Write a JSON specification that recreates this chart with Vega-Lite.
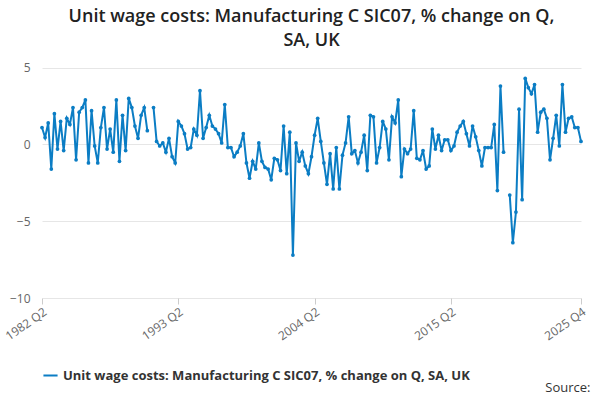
{
  "$schema": "https://vega.github.io/schema/vega-lite/v6.json",
  "width": 539,
  "height": 238,
  "padding": {"left": 3, "top": 8, "right": 16, "bottom": 0},
  "title": {
    "text": ["Unit wage costs: Manufacturing C SIC07, % change on Q,", "SA, UK"],
    "fontSize": 18, "font": "Open Sans", "fontWeight": 600, "color": "#222", "offset": 10, "lineHeight": 24
  },
  "data": {"values": [
    {"q":"1982 Q2","v":1.1},{"q":"1982 Q3","v":0.45},{"q":"1982 Q4","v":1.4},{"q":"1983 Q1","v":-1.6},
    {"q":"1983 Q2","v":2.0},{"q":"1983 Q3","v":-0.3},{"q":"1983 Q4","v":1.5},{"q":"1984 Q1","v":-0.4},
    {"q":"1984 Q2","v":1.7},{"q":"1984 Q3","v":1.3},{"q":"1984 Q4","v":2.4},{"q":"1985 Q1","v":-1.0},
    {"q":"1985 Q2","v":2.1},{"q":"1985 Q3","v":2.4},{"q":"1985 Q4","v":2.9},{"q":"1986 Q1","v":-1.2},
    {"q":"1986 Q2","v":2.2},{"q":"1986 Q3","v":-0.1},{"q":"1986 Q4","v":-1.2},{"q":"1987 Q1","v":1.1},
    {"q":"1987 Q2","v":2.4},{"q":"1987 Q3","v":-0.3},{"q":"1987 Q4","v":1.0},{"q":"1988 Q1","v":-0.5},
    {"q":"1988 Q2","v":2.9},{"q":"1988 Q3","v":-1.1},{"q":"1988 Q4","v":1.9},{"q":"1989 Q1","v":-0.4},
    {"q":"1989 Q2","v":3.0},{"q":"1989 Q3","v":2.4},{"q":"1989 Q4","v":1.2},{"q":"1990 Q1","v":0.4},
    {"q":"1990 Q2","v":1.9},{"q":"1990 Q3","v":2.4},{"q":"1990 Q4","v":0.9},{"q":"1991 Q1","v":null},
    {"q":"1991 Q2","v":2.4},{"q":"1991 Q3","v":0.2},{"q":"1991 Q4","v":-0.1},{"q":"1992 Q1","v":0.1},
    {"q":"1992 Q2","v":-0.5},{"q":"1992 Q3","v":0.4},{"q":"1992 Q4","v":-0.8},{"q":"1993 Q1","v":-1.2},
    {"q":"1993 Q2","v":1.5},{"q":"1993 Q3","v":1.2},{"q":"1993 Q4","v":0.7},{"q":"1994 Q1","v":-0.3},
    {"q":"1994 Q2","v":-0.2},{"q":"1994 Q3","v":1.0},{"q":"1994 Q4","v":0.6},{"q":"1995 Q1","v":3.5},
    {"q":"1995 Q2","v":0.4},{"q":"1995 Q3","v":1.1},{"q":"1995 Q4","v":1.9},{"q":"1996 Q1","v":1.2},
    {"q":"1996 Q2","v":1.0},{"q":"1996 Q3","v":0.7},{"q":"1996 Q4","v":0.1},{"q":"1997 Q1","v":2.6},
    {"q":"1997 Q2","v":-0.2},{"q":"1997 Q3","v":-0.2},{"q":"1997 Q4","v":-0.8},{"q":"1998 Q1","v":-0.5},
    {"q":"1998 Q2","v":-0.1},{"q":"1998 Q3","v":0.7},{"q":"1998 Q4","v":-1.2},{"q":"1999 Q1","v":-2.2},
    {"q":"1999 Q2","v":-1.1},{"q":"1999 Q3","v":-1.6},{"q":"1999 Q4","v":0.1},{"q":"2000 Q1","v":-1.1},
    {"q":"2000 Q2","v":-1.5},{"q":"2000 Q3","v":-1.6},{"q":"2000 Q4","v":-2.3},{"q":"2001 Q1","v":-0.9},
    {"q":"2001 Q2","v":-1.0},{"q":"2001 Q3","v":-1.7},{"q":"2001 Q4","v":1.2},{"q":"2002 Q1","v":-1.9},
    {"q":"2002 Q2","v":0.8},{"q":"2002 Q3","v":-7.2},{"q":"2002 Q4","v":0.1},{"q":"2003 Q1","v":-1.1},
    {"q":"2003 Q2","v":-0.5},{"q":"2003 Q3","v":-1.4},{"q":"2003 Q4","v":-1.9},{"q":"2004 Q1","v":-0.8},
    {"q":"2004 Q2","v":0.6},{"q":"2004 Q3","v":1.7},{"q":"2004 Q4","v":0.2},{"q":"2005 Q1","v":-1.2},
    {"q":"2005 Q2","v":-2.6},{"q":"2005 Q3","v":-0.6},{"q":"2005 Q4","v":-2.9},{"q":"2006 Q1","v":-0.2},
    {"q":"2006 Q2","v":-2.9},{"q":"2006 Q3","v":-0.7},{"q":"2006 Q4","v":0.1},{"q":"2007 Q1","v":1.8},
    {"q":"2007 Q2","v":-0.6},{"q":"2007 Q3","v":-0.4},{"q":"2007 Q4","v":-1.2},{"q":"2008 Q1","v":-0.5},
    {"q":"2008 Q2","v":0.6},{"q":"2008 Q3","v":-1.7},{"q":"2008 Q4","v":1.9},{"q":"2009 Q1","v":1.8},
    {"q":"2009 Q2","v":-1.2},{"q":"2009 Q3","v":-0.2},{"q":"2009 Q4","v":1.5},{"q":"2010 Q1","v":1.0},
    {"q":"2010 Q2","v":-1.0},{"q":"2010 Q3","v":1.8},{"q":"2010 Q4","v":1.4},{"q":"2011 Q1","v":2.9},
    {"q":"2011 Q2","v":-2.1},{"q":"2011 Q3","v":-0.3},{"q":"2011 Q4","v":-0.6},{"q":"2012 Q1","v":-0.3},
    {"q":"2012 Q2","v":2.2},{"q":"2012 Q3","v":-0.9},{"q":"2012 Q4","v":-1.0},{"q":"2013 Q1","v":-0.4},
    {"q":"2013 Q2","v":-1.6},{"q":"2013 Q3","v":-1.4},{"q":"2013 Q4","v":1.0},{"q":"2014 Q1","v":-0.3},
    {"q":"2014 Q2","v":0.6},{"q":"2014 Q3","v":-0.4},{"q":"2014 Q4","v":0.3},{"q":"2015 Q1","v":0.3},
    {"q":"2015 Q2","v":-0.4},{"q":"2015 Q3","v":-0.1},{"q":"2015 Q4","v":0.8},{"q":"2016 Q1","v":1.2},
    {"q":"2016 Q2","v":1.5},{"q":"2016 Q3","v":0.7},{"q":"2016 Q4","v":-0.1},{"q":"2017 Q1","v":1.2},
    {"q":"2017 Q2","v":0.5},{"q":"2017 Q3","v":-0.4},{"q":"2017 Q4","v":-1.4},{"q":"2018 Q1","v":-0.2},
    {"q":"2018 Q2","v":-0.2},{"q":"2018 Q3","v":-0.2},{"q":"2018 Q4","v":1.3},{"q":"2019 Q1","v":-3.0},
    {"q":"2019 Q2","v":3.8},{"q":"2019 Q3","v":-0.5},{"q":"2019 Q4","v":null},{"q":"2020 Q1","v":-3.3},
    {"q":"2020 Q2","v":-6.4},{"q":"2020 Q3","v":-4.4},{"q":"2020 Q4","v":2.3},{"q":"2021 Q1","v":-3.6},
    {"q":"2021 Q2","v":4.3},{"q":"2021 Q3","v":3.7},{"q":"2021 Q4","v":3.3},{"q":"2022 Q1","v":3.9},
    {"q":"2022 Q2","v":0.8},{"q":"2022 Q3","v":2.1},{"q":"2022 Q4","v":2.3},{"q":"2023 Q1","v":1.7},
    {"q":"2023 Q2","v":-1.0},{"q":"2023 Q3","v":0.4},{"q":"2023 Q4","v":1.9},{"q":"2024 Q1","v":-0.1},
    {"q":"2024 Q2","v":3.9},{"q":"2024 Q3","v":0.8},{"q":"2024 Q4","v":1.7},{"q":"2025 Q1","v":1.8},
    {"q":"2025 Q2","v":1.1},{"q":"2025 Q3","v":1.1},{"q":"2025 Q4","v":0.2}
  ]},
  "mark": {"type": "line", "point": {"size": 14, "filled": true}, "strokeWidth": 2},
  "encoding": {
    "x": {
      "field": "q", "type": "ordinal", "sort": null,
      "scale": {"type": "point", "padding": 0},
      "axis": {
        "values": ["1982 Q2", "1993 Q2", "2004 Q2", "2015 Q2", "2025 Q4"],
        "labelAngle": -35, "labelFontSize": 12, "labelColor": "#666", "labelFont": "Open Sans",
        "domain": false, "tickColor": "#ccc", "tickSize": 6, "grid": false,
        "title": "Source:", "titleAnchor": "end", "titleFontWeight": "normal", "titleFontSize": 13,
        "titleColor": "#333", "titleFont": "Open Sans", "titlePadding": 40, "titleX": 548
      }
    },
    "y": {
      "field": "v", "type": "quantitative",
      "scale": {"domain": [-10, 5.5], "nice": false},
      "axis": {"values": [-10, -5, 0, 5], "title": null, "domain": false, "ticks": false,
        "labelFontSize": 12, "labelColor": "#666", "labelFont": "Open Sans", "gridColor": "#e6e6e6", "labelPadding": 12}
    },
    "color": {
      "datum": "Unit wage costs: Manufacturing C SIC07, % change on Q, SA, UK",
      "scale": {"range": ["#0b7dc4"]},
      "legend": {"orient": "bottom", "title": null, "labelFontSize": 13, "labelFontWeight": "bold",
        "labelColor": "#333", "labelFont": "Open Sans", "labelLimit": 600, "symbolType": "stroke",
        "symbolStrokeWidth": 2, "symbolSize": 200, "offset": -28}
    }
  },
  "config": {"view": {"stroke": null}, "font": "Open Sans"}
}
